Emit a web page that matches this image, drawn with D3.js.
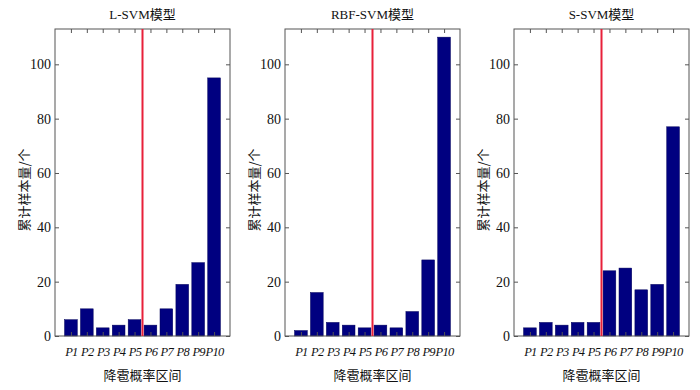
<!DOCTYPE html>
<html><head><meta charset="utf-8">
<script src="https://cdn.jsdelivr.net/npm/d3@7/dist/d3.min.js"></script>
<style>body{margin:0;background:#fff}</style>
</head><body><svg id="c" width="700" height="390"></svg>
<script>
const categories = ["P1","P2","P3","P4","P5","P6","P7","P8","P9","P10"];
const titles = ["L-SVM模型","RBF-SVM模型","S-SVM模型"];
const lsvm = [6,10,3,4,6,4,10,19,27,95];
const rbfsvm = [2,16,5,4,3,4,3,9,28,110];
const ssvm = [3,5,4,5,5,24,25,17,19,77];
const yTicks = [0,20,40,60,80,100];
const splitPos = 5.5;
const xLabel = "降雹概率区间";
const yLabel = "累计样本量/个";
const seriesList = [lsvm, rbfsvm, ssvm];

(function(){
const svg = d3.select("#c");
const panelLefts = [55, 285, 514];
const pw = 175, pTop = 29, pBottom = 336;
const serif = "'Liberation Serif','Times New Roman',serif";
const cjk = "'Noto Sans CJK SC',sans-serif";
const axisCol = "#555";

seriesList.forEach((vals, k) => {
  const x0 = panelLefts[k];
  const g = svg.append("g");
  const x = d3.scaleLinear().domain([0, 11]).range([x0, x0 + pw]);
  const y = d3.scaleLinear().domain([0, 113]).range([pBottom, pTop]);
  const bw = (x(0.8) - x(0));

  g.selectAll("rect.bar").data(vals).enter().append("rect")
    .attr("x", (d, i) => x(i + 1) - bw / 2)
    .attr("y", d => y(d))
    .attr("width", bw)
    .attr("height", d => y(0) - y(d))
    .attr("fill", "#000080")
    .attr("stroke", "#00005a").attr("stroke-width", 0.5);

  g.append("rect").attr("x", x0).attr("y", pTop).attr("width", pw).attr("height", pBottom - pTop)
    .attr("fill", "none").attr("stroke", axisCol).attr("stroke-width", 1);

  const yl = d3.axisLeft(y).tickValues(yTicks).tickSizeInner(-4).tickSizeOuter(0).tickPadding(4);
  const ya = g.append("g").attr("transform", `translate(${x0},0)`).call(yl);
  ya.attr("font-family", serif);
  ya.select(".domain").remove();
  ya.selectAll("line").attr("stroke", axisCol);
  ya.selectAll("text").style("font-family", serif).attr("font-size", 14).attr("fill", "#111");

  const yr = d3.axisRight(y).tickValues(yTicks).tickSizeInner(-4).tickSizeOuter(0).tickFormat("");
  const yb = g.append("g").attr("transform", `translate(${x0 + pw},0)`).call(yr);
  yb.select(".domain").remove();
  yb.selectAll("line").attr("stroke", axisCol);

  const xb = d3.axisBottom(x).tickValues(d3.range(1, 11)).tickSizeInner(-4).tickSizeOuter(0).tickPadding(11)
    .tickFormat(i => categories[i - 1]);
  const xa = g.append("g").attr("transform", `translate(0,${pBottom})`).call(xb);
  xa.attr("font-family", serif);
  xa.select(".domain").remove();
  xa.selectAll("line").attr("stroke", axisCol);
  xa.selectAll("text").style("font-family", serif).attr("font-size", 12.5).attr("font-style", "italic")
    .attr("letter-spacing", -0.7).attr("fill", "#111");

  const xt = d3.axisTop(x).tickValues(d3.range(1, 11)).tickSizeInner(-4).tickSizeOuter(0).tickFormat("");
  const xta = g.append("g").attr("transform", `translate(0,${pTop})`).call(xt);
  xta.select(".domain").remove();
  xta.selectAll("line").attr("stroke", axisCol);

  g.append("line").attr("x1", x(splitPos)).attr("x2", x(splitPos))
    .attr("y1", pTop).attr("y2", pBottom).attr("stroke", "#e8203a").attr("stroke-width", 2);

  g.append("text").attr("x", x0 + pw / 2).attr("y", 19).attr("text-anchor", "middle")
    .style("font-family", serif + "," + cjk).attr("font-size", 13).attr("fill", "#111").text(titles[k]);

  g.append("text").attr("x", x0 + pw / 2).attr("y", 380).attr("text-anchor", "middle")
    .style("font-family", cjk).attr("font-size", 13).attr("fill", "#111").text(xLabel);

  g.append("text").attr("transform", `translate(${x0 - 26},190) rotate(-90)`).attr("text-anchor", "middle")
    .style("font-family", cjk).attr("font-size", 13).attr("fill", "#111").text(yLabel);
});
})();
</script></body></html>
